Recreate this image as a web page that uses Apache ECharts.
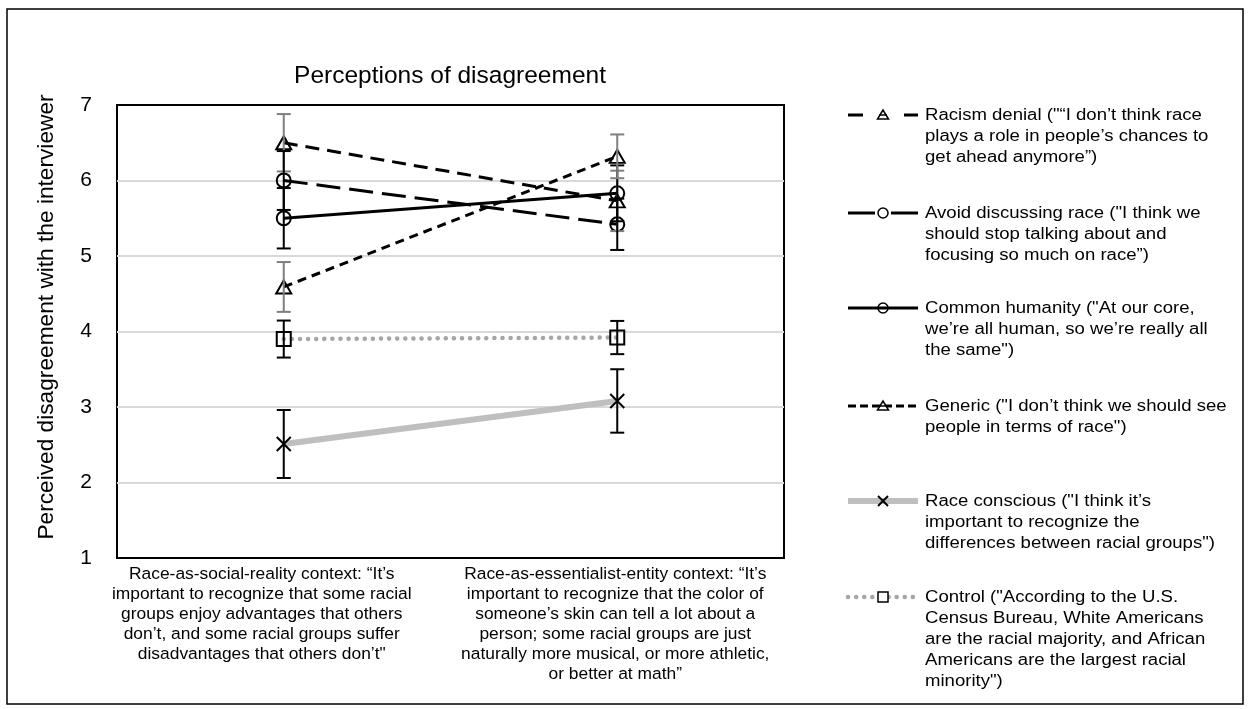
<!DOCTYPE html>
<html>
<head>
<meta charset="utf-8">
<script src="https://cdn.jsdelivr.net/npm/echarts@6/dist/echarts.min.js"></script>
<style>
  html, body { margin: 0; padding: 0; background: #fff; }
  #chart { width: 1250px; height: 709px; }
</style>
</head>
<body>
<div id="chart"></div>
<script>
// Context categories (x axis), with the line breaks used on the axis
const categories = [
  'Race-as-social-reality context: \u201cIt\u2019s\nimportant to recognize that some racial\ngroups enjoy advantages that others\ndon\u2019t, and some racial groups suffer\ndisadvantages that others don\u2019t"',
  'Race-as-essentialist-entity context: \u201cIt\u2019s\nimportant to recognize that the color of\nsomeone\u2019s skin can tell a lot about a\nperson; some racial groups are just\nnaturally more musical, or more athletic,\nor better at math\u201d'
];

// Mean perceived disagreement per condition, and error-bar half widths
const racismDenial = [6.50, 5.73];
const racismDenialErr = [0.38, 0.40];
const avoidDiscussing = [6.00, 5.42];
const avoidDiscussingErr = [0.39, 0.34];
const commonHumanity = [5.50, 5.83];
const commonHumanityErr = [0.40, 0.37];
const generic = [4.59, 6.32];
const genericErr = [0.33, 0.29];
const raceConscious = [2.51, 3.08];
const raceConsciousErr = [0.45, 0.42];
const control = [3.90, 3.92];
const controlErr = [0.245, 0.22];

// Y axis
const yMin = 1, yMax = 7, yStep = 1;

// Legend text, one entry per series, split into lines
const legendLines = [
  ['Racism denial ("\u201cI don\u2019t think race', 'plays a role in people\u2019s chances to', 'get ahead anymore\u201d)'],
  ['Avoid discussing race ("I think we', 'should stop talking about and', 'focusing so much on race\u201d)'],
  ['Common humanity ("At our core,', 'we\u2019re all human, so we\u2019re really all', 'the same")'],
  ['Generic ("I don\u2019t think we should see', 'people in terms of race")'],
  ['Race conscious ("I think it\u2019s', 'important to recognize the', 'differences between racial groups")'],
  ['Control ("According to the U.S.', 'Census Bureau, White Americans', 'are the racial majority, and African', 'Americans are the largest racial', 'minority")']
];

const FONT = '"Liberation Sans", Arial, sans-serif';
const X_PATH = 'path://M0,0L10,10M10,0L0,10';

const styles = [
  { name: legendLines[0].join(' '), data: racismDenial, err: racismDenialErr, color: '#000', width: 3, dash: [14, 8], legendDash: [15, 41], symbol: 'triangle', symbolSize: [15, 13], errColor: '#7f7f7f' },
  { name: legendLines[1].join(' '), data: avoidDiscussing, err: avoidDiscussingErr, color: '#000', width: 3, dash: [24, 9], legendDash: [27, 16], symbol: 'circle', symbolSize: 14, errColor: '#000' },
  { name: legendLines[2].join(' '), data: commonHumanity, err: commonHumanityErr, color: '#000', width: 3, dash: 'solid', legendDash: null, symbol: 'circle', symbolSize: 14, errColor: '#000' },
  { name: legendLines[3].join(' '), data: generic, err: genericErr, color: '#000', width: 3, dash: [9, 6], legendDash: [8, 4], symbol: 'triangle', symbolSize: [15, 13], errColor: '#7f7f7f' },
  { name: legendLines[4].join(' '), data: raceConscious, err: raceConsciousErr, color: '#bfbfbf', width: 6, dash: 'solid', legendDash: null, symbol: X_PATH, symbolSize: 14, errColor: '#000' },
  { name: legendLines[5].join(' '), data: control, err: controlErr, color: '#a6a6a6', width: 4.5, dash: [0.1, 8], legendDash: [0.1, 8], symbol: 'rect', symbolSize: 14, errColor: '#000' }
];

function isDotted(s) { return s.dash instanceof Array && s.dash[0] < 1; }

function errorBarSeries(s) {
  return {
    type: 'custom',
    name: s.name + ' (error)',
    z: 4,
    silent: true,
    data: s.data.map((v, i) => [i, v - s.err[i], v + s.err[i]]),
    renderItem: function (params, api) {
      const lo = api.coord([api.value(0), api.value(1)]);
      const hi = api.coord([api.value(0), api.value(2)]);
      const cap = 7;
      const st = { stroke: s.errColor, lineWidth: 2 };
      return {
        type: 'group',
        children: [
          { type: 'line', shape: { x1: lo[0], y1: lo[1], x2: hi[0], y2: hi[1] }, style: st },
          { type: 'line', shape: { x1: lo[0] - cap, y1: lo[1], x2: lo[0] + cap, y2: lo[1] }, style: st },
          { type: 'line', shape: { x1: hi[0] - cap, y1: hi[1], x2: hi[0] + cap, y2: hi[1] }, style: st }
        ]
      };
    }
  };
}

function lineSeries(s) {
  const isX = s.symbol === X_PATH;
  return {
    type: 'line',
    name: s.name,
    z: 3,
    data: s.data,
    symbol: s.symbol,
    symbolSize: s.symbolSize,
    showAllSymbol: true,
    lineStyle: { color: s.color, width: s.width, type: s.dash, cap: isDotted(s) ? 'round' : 'butt' },
    itemStyle: { color: isX ? '#000' : 'rgba(255,255,255,0)', borderColor: '#000', borderWidth: 2 },
    emphasis: { disabled: true },
    animation: false
  };
}

// Hand-drawn legend block on the right
function legendGraphics() {
  const out = [];
  const ys = [115, 213, 308, 406, 501, 597];
  const x0 = 848, x1 = 918, xm = 883, tx = 925;
  styles.forEach((s, i) => {
    const y = ys[i];
    out.push({
      type: 'line', shape: { x1: x0, y1: y, x2: x1, y2: y },
      style: { stroke: s.color, lineWidth: s.width, lineDash: s.legendDash, lineCap: isDotted(s) ? 'round' : 'butt' }
    });
    const mk = { stroke: '#000', lineWidth: 1.5, fill: '#fff' };
    if (s.symbol === 'triangle') {
      out.push({ type: 'polygon', shape: { points: [[xm, y - 5], [xm - 5.5, y + 4], [xm + 5.5, y + 4]] }, style: mk });
      out.push({ type: 'line', shape: { x1: xm - 4, y1: y, x2: xm + 4, y2: y }, style: { stroke: '#000', lineWidth: 1.5 } });
    } else if (s.symbol === 'circle') {
      out.push({ type: 'circle', shape: { cx: xm, cy: y, r: 5 }, style: i === 2 ? { stroke: '#000', lineWidth: 1.5, fill: null } : mk });
    } else if (s.symbol === 'rect') {
      out.push({ type: 'rect', shape: { x: xm - 5, y: y - 5, width: 10, height: 10 }, style: mk });
    } else {
      out.push({ type: 'line', shape: { x1: xm - 5, y1: y - 5, x2: xm + 5, y2: y + 5 }, style: { stroke: '#000', lineWidth: 2 } });
      out.push({ type: 'line', shape: { x1: xm + 5, y1: y - 5, x2: xm - 5, y2: y + 5 }, style: { stroke: '#000', lineWidth: 2 } });
    }
    out.push({
      type: 'text', x: tx, y: y - 10, scaleX: 1.16, originX: 0,
      style: { text: legendLines[i].join('\n'), font: '16px ' + FONT, fill: '#000', lineHeight: 21, textVerticalAlign: 'top' }
    });
  });
  return out;
}

const chart = echarts.init(document.getElementById('chart'), null, { renderer: 'canvas' });
chart.setOption({
  animation: false,
  backgroundColor: '#fff',
  title: {
    text: 'Perceptions of disagreement',
    left: 445, top: 59, textAlign: 'center',
    textStyle: { fontFamily: FONT, fontSize: 24.5, fontWeight: 'normal', color: '#000' }
  },
  grid: {
    left: 117, right: 466, top: 105, bottom: 151,
    show: true, borderColor: '#000', borderWidth: 2, backgroundColor: 'transparent'
  },
  xAxis: {
    type: 'category',
    data: categories,
    boundaryGap: true,
    axisLine: { show: false },
    axisTick: { show: false },
    axisLabel: {
      interval: 0, margin: 6, color: '#000',
      fontFamily: FONT, fontSize: 17.4, lineHeight: 20,
      formatter: function (val, idx) {
        const tag = idx === 0 ? 'l' : 'r';
        return val.split('\n').map(t => '{' + tag + '|' + t + '}').join('\n');
      },
      rich: {
        l: { fontFamily: FONT, fontSize: 17.4, lineHeight: 20, color: '#000', padding: [0, 44, 0, 0] },
        r: { fontFamily: FONT, fontSize: 17.4, lineHeight: 20, color: '#000', padding: [0, 4, 0, 0] }
      }
    },
    splitLine: { show: false }
  },
  yAxis: {
    type: 'value',
    min: yMin, max: yMax, interval: yStep,
    axisLine: { show: false },
    axisTick: { show: false },
    axisLabel: { color: '#000', fontFamily: FONT, fontSize: 21, margin: 25 },
    splitLine: { showMinLine: false, showMaxLine: false, lineStyle: { color: '#d9d9d9', width: 2 } }
  },
  graphic: [
    { type: 'rect', shape: { x: 7, y: 9, width: 1236, height: 695 }, style: { fill: null, stroke: '#000', lineWidth: 1.5 }, silent: true },
    { type: 'text', x: 47, y: 317, rotation: Math.PI / 2,
      style: { text: 'Perceived disagreement with the interviewer', font: '22.7px ' + FONT, fill: '#000', textAlign: 'center', textVerticalAlign: 'middle' } }
  ].concat(legendGraphics()),
  series: styles.map(lineSeries).concat(styles.map(errorBarSeries))
});
</script>
</body>
</html>
